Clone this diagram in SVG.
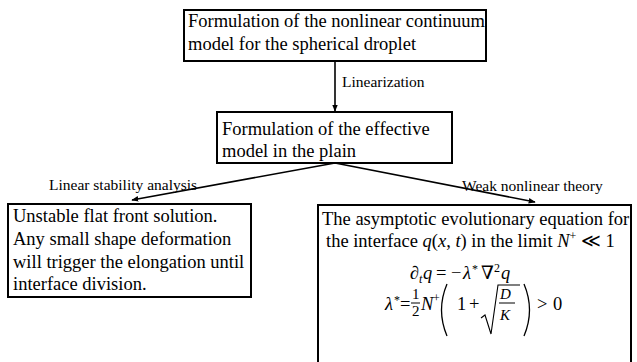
<svg xmlns="http://www.w3.org/2000/svg" width="637" height="362" viewBox="0 0 637 362">
<defs>
<marker id="ah" viewBox="0 0 10 10" refX="9" refY="5" markerWidth="7" markerHeight="7" orient="auto" markerUnits="userSpaceOnUse">
<path d="M0,1 L10,5 L0,9 z" fill="#000"/>
</marker>
<style>
.box{fill:#fff;stroke:#000;stroke-width:2}
text{font-family:'Liberation Serif','DejaVu Serif',serif;fill:#000}
.t{font-size:18.5px}
.l{font-size:15.5px}
.m{font-size:18.5px}
.s{font-size:12px}
.f{font-size:15px}
.i{font-style:italic}
.e{stroke:#000;stroke-width:1.6;fill:none}
.p{stroke:#000;stroke-width:1.3;fill:none}
</style>
</defs>
<rect width="637" height="362" fill="#fff"/>
<g id="connectors" font-family="Liberation Serif, serif">
<line class="e" x1="335" y1="61" x2="335" y2="111" marker-end="url(#ah)"/>
<line class="e" x1="335" y1="163" x2="132" y2="200" marker-end="url(#ah)"/>
<line class="e" x1="335" y1="163" x2="535" y2="202" marker-end="url(#ah)"/>
<text class="l" x="342" y="87">Linearization</text>
<text class="l" x="49" y="190">Linear stability analysis</text>
<text class="l" x="462" y="191">Weak nonlinear theory</text>
</g>
<g id="node-top" font-family="Liberation Serif, serif">
<rect class="box" x="184" y="10" width="302" height="51"/>
<text class="t" x="188" y="27">Formulation of the nonlinear continuum</text>
<text class="t" x="188" y="50">model for the spherical droplet</text>
</g>
<g id="node-middle" font-family="Liberation Serif, serif">
<rect class="box" x="217" y="112" width="235" height="51"/>
<text class="t" x="222" y="135">Formulation of the effective</text>
<text class="t" x="222" y="157">model in the plain</text>
</g>
<g id="node-left" font-family="Liberation Serif, serif">
<rect class="box" x="8" y="204" width="243" height="93"/>
<text class="t" x="13" y="222">Unstable flat front solution.</text>
<text class="t" x="13" y="245">Any small shape deformation</text>
<text class="t" x="13" y="268">will trigger the elongation until</text>
<text class="t" x="13" y="290">interface division.</text>
</g>
<g id="node-right" font-family="Liberation Serif, serif">
<rect class="box" x="318" y="205" width="313" height="170"/>
<text class="t" x="322" y="225">The asymptotic evolutionary equation for</text>
<text class="t" x="326" y="247">the interface <tspan class="i">q</tspan>(<tspan class="i">x</tspan>, <tspan class="i">t</tspan>) in the limit  <tspan class="i">N</tspan><tspan class="s" dy="-7">+</tspan><tspan dy="7"> ≪ 1</tspan></text>
<text class="m" x="410" y="279">∂</text>
<text class="s i" x="419" y="283">t</text>
<text class="m i" x="423" y="279">q</text>
<text class="m" x="436" y="279">=</text>
<text class="m" x="451" y="279">−</text>
<text class="m i" x="463" y="279">λ</text>
<text class="s" x="472" y="273">*</text>
<text class="m" x="481" y="279">∇</text>
<text class="s" x="494" y="272">2</text>
<text class="m i" x="501" y="279">q</text>
<text class="m i" x="385" y="310">λ</text>
<text class="s" x="394" y="304">*</text>
<text class="m" x="400" y="310">=</text>
<text class="f" x="412" y="299">1</text>
<line x1="411" y1="303" x2="420" y2="303" stroke="#000" stroke-width="1"/>
<text class="f" x="412" y="316">2</text>
<text class="m i" x="421" y="310">N</text>
<text class="s" x="433" y="302">+</text>
<path class="p" d="M447,284 Q436,310 447,336"/>
<text class="m" x="457" y="310">1</text>
<text class="m" x="469" y="310">+</text>
<path d="M481,318 L485,315 L491,334 L498,285 L520,285" stroke="#000" stroke-width="1.1" fill="none"/>
<text class="f i" x="500" y="299">D</text>
<line x1="499" y1="303" x2="515" y2="303" stroke="#000" stroke-width="1"/>
<text class="f i" x="500" y="320">K</text>
<path class="p" d="M524,284 Q535,310 524,336"/>
<text class="m" x="537" y="310">&gt;</text>
<text class="m" x="553" y="310">0</text>
</g>
</svg>
